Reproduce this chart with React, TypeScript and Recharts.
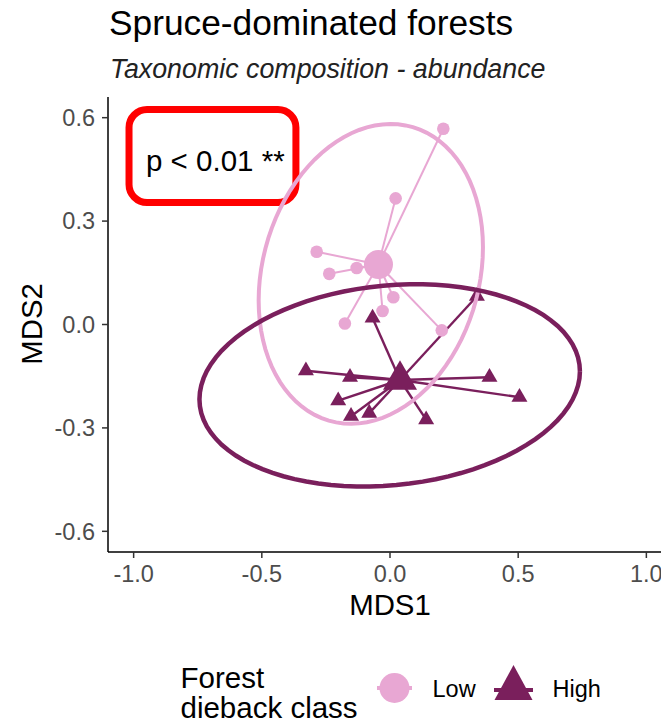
import React from 'react';
import { ScatterChart, Scatter, XAxis, YAxis, ReferenceArea, Legend } from 'recharts';

const FONT = '"Liberation Sans", Arial, Helvetica, sans-serif';
const PINK = '#E8A7D3';
const PURPLE = '#7A1F5C';

// ---- data ----
const groupNames = ['Low', 'High'];
const lowX = [0.208, 0.022, -0.286, -0.237, -0.13, 0.013, -0.029, -0.176, 0.202];
const lowY = [0.568, 0.366, 0.211, 0.147, 0.164, 0.079, 0.039, 0.003, -0.017];
const highX = [-0.068, 0.339, -0.328, -0.156, 0.388, 0.505, -0.202, -0.152, -0.081, 0.141];
const highY = [0.019, 0.082, -0.134, -0.153, -0.153, -0.211, -0.221, -0.266, -0.257, -0.276];
const centroidX = [-0.045, 0.039];
const centroidY = [0.174, -0.161];
const xTicks = [-1.0, -0.5, 0.0, 0.5, 1.0];
const yTicks = [-0.6, -0.3, 0.0, 0.3, 0.6];
const pLabel = 'p < 0.01 **';

type P = { x: number; y: number };
const toPoints = (xs: number[], ys: number[]): P[] => xs.map((x, i) => ({ x, y: ys[i] }));

// MASS::cov.trob (as used by ggplot2::stat_ellipse, type = "t")
function covTrob(pts: P[], nu = 5, maxit = 25, tol = 0.01) {
  const n = pts.length;
  const p = 2;
  let loc = [pts.reduce((s, q) => s + q.x, 0) / n, pts.reduce((s, q) => s + q.y, 0) / n];
  let w = pts.map(() => 1);
  let X = pts.map((q) => [q.x - loc[0], q.y - loc[1]]);
  for (let it = 0; it < maxit; it++) {
    const w0 = w.slice();
    X = pts.map((q) => [q.x - loc[0], q.y - loc[1]]);
    const sw = w.reduce((a, b) => a + b, 0);
    let sxx = 0, sxy = 0, syy = 0;
    X.forEach((v, i) => {
      sxx += (w[i] / sw) * v[0] * v[0];
      sxy += (w[i] / sw) * v[0] * v[1];
      syy += (w[i] / sw) * v[1] * v[1];
    });
    const det = sxx * syy - sxy * sxy;
    const Q = X.map((v) => (syy * v[0] * v[0] - 2 * sxy * v[0] * v[1] + sxx * v[1] * v[1]) / det);
    w = Q.map((q) => (nu + p) / (nu + q));
    const sw2 = w.reduce((a, b) => a + b, 0);
    loc = [
      pts.reduce((s, q, i) => s + w[i] * q.x, 0) / sw2,
      pts.reduce((s, q, i) => s + w[i] * q.y, 0) / sw2,
    ];
    if (w.every((wi, i) => Math.abs(wi - w0[i]) < tol)) break;
  }
  let c11 = 0, c12 = 0, c22 = 0;
  X.forEach((v, i) => {
    c11 += w[i] * v[0] * v[0];
    c12 += w[i] * v[0] * v[1];
    c22 += w[i] * v[1] * v[1];
  });
  return { loc, cov: [c11 / n, c12 / n, c22 / n] };
}

function confidenceEllipse(pts: P[], level = 0.95, segments = 90): P[] {
  const { loc, cov } = covTrob(pts);
  const dfd = pts.length - 1;
  const fq = (dfd / 2) * (Math.pow(1 - level, -2 / dfd) - 1); // qf(level, 2, dfd)
  const radius = Math.sqrt(2 * fq);
  const r11 = Math.sqrt(cov[0]);
  const r12 = cov[1] / r11;
  const r22 = Math.sqrt(cov[2] - r12 * r12);
  const out: P[] = [];
  for (let k = 0; k <= segments; k++) {
    const a = (k * 2 * Math.PI) / segments;
    const c = Math.cos(a), s = Math.sin(a);
    out.push({ x: loc[0] + radius * c * r11, y: loc[1] + radius * (c * r12 + s * r22) });
  }
  return out;
}

const lowPts = toPoints(lowX, lowY);
const highPts = toPoints(highX, highY);
const groupPts = [lowPts, highPts];
const centroids = toPoints(centroidX, centroidY);
const ellipses = groupPts.map((g) => confidenceEllipse(g));
const colors = [PINK, PURPLE];

const none = () => <g />;

const circleShape = (r: number, fill: string) => (props: any) =>
  <circle cx={props.cx} cy={props.cy} r={r} fill={fill} />;

const triangleShape = (width: number, fill: string) => (props: any) => {
  const h = (width * Math.sqrt(3)) / 2;
  const { cx, cy } = props;
  const pts = `${cx},${cy - (2 * h) / 3} ${cx - width / 2},${cy + h / 3} ${cx + width / 2},${cy + h / 3}`;
  return <polygon points={pts} fill={fill} />;
};

const LegendContent = () => (
  <svg width={661} height={74} style={{ display: 'block' }}>
    <text x={180.5} y={38} fontFamily={FONT} fontSize={29.5} fill="#000">Forest</text>
    <text x={180.5} y={68} fontFamily={FONT} fontSize={29.5} fill="#000">dieback class</text>
    <line x1={377} x2={412} y1={38} y2={38} stroke={PINK} strokeWidth={4} />
    <circle cx={394.5} cy={38} r={15} fill={PINK} />
    <text x={432.5} y={47} fontFamily={FONT} fontSize={23.5} fill="#000">{groupNames[0]}</text>
    <line x1={494} x2={533} y1={40} y2={40} stroke={PURPLE} strokeWidth={4} />
    <polygon points="513.5,15 494.5,50 532.5,50" fill={PURPLE} />
    <text x={552.5} y={47} fontFamily={FONT} fontSize={23.5} fill="#000">{groupNames[1]}</text>
  </svg>
);

const pBox = (props: any) => {
  const { x, y, width, height } = props;
  return (
    <g>
      <rect x={x} y={y} width={width} height={height} rx={18} ry={18} fill="none" stroke="#FF0000" strokeWidth={7} />
      <text x={x + 17} y={y + 61.5} fontFamily={FONT} fontSize={29.5} fill="#000">{pLabel}</text>
    </g>
  );
};

export default function App() {
  return (
    <div style={{ position: 'absolute', left: 0, top: 0, width: 661, height: 724, overflow: 'hidden', background: '#fff' }}>
      <svg width={661} height={95} style={{ position: 'absolute', left: 0, top: 0, zIndex: 2 }}>
        <text x={109} y={35} fontFamily={FONT} fontSize={35.3} fill="#000">Spruce-dominated forests</text>
        <text x={110} y={78} fontFamily={FONT} fontSize={26.8} fontStyle="italic" fill="#222">Taxonomic composition - abundance</text>
      </svg>
      <ScatterChart width={672} height={724} margin={{ top: 97, right: 0, bottom: 112, left: 8 }}>
        <XAxis
          type="number"
          dataKey="x"
          domain={[-1.1, 1.1]}
          ticks={xTicks}
          allowDataOverflow
          height={60}
          tickSize={6}
          tickMargin={7}
          tickFormatter={(v: number) => v.toFixed(1)}
          axisLine={{ stroke: '#000', strokeWidth: 1.5 }}
          tickLine={{ stroke: '#333', strokeWidth: 1.5 }}
          tick={{ fill: '#4D4D4D', fontSize: 23.5, fontFamily: FONT }}
          label={() => (
            <text x={390} y={615} textAnchor="middle" fontFamily={FONT} fontSize={29.4} fill="#000">MDS1</text>
          )}
        />
        <YAxis
          type="number"
          dataKey="y"
          domain={[-0.66, 0.66]}
          ticks={yTicks}
          allowDataOverflow
          width={100}
          tickSize={6}
          tickMargin={7}
          tickFormatter={(v: number) => v.toFixed(1)}
          axisLine={{ stroke: '#000', strokeWidth: 1.5 }}
          tickLine={{ stroke: '#333', strokeWidth: 1.5 }}
          tick={{ fill: '#4D4D4D', fontSize: 23.5, fontFamily: FONT }}
          label={() => (
            <text x={31} y={324} dy="0.36em" transform="rotate(-90, 31, 324)" textAnchor="middle" fontFamily={FONT} fontSize={29.4} fill="#000">MDS2</text>
          )}
        />
        <ReferenceArea x1={-1.018} x2={-0.367} y1={0.354} y2={0.624} shape={pBox} ifOverflow="visible" />
        {groupPts.map((g, gi) =>
          g.map((pt, i) => (
            <Scatter
              key={`seg-${gi}-${i}`}
              data={[centroids[gi], pt]}
              fill={colors[gi]}
              line={{ stroke: colors[gi], strokeWidth: gi === 0 ? 2 : 2.4 }}
              lineType="joint"
              shape={none}
              isAnimationActive={false}
            />
          ))
        )}
        <Scatter data={lowPts} fill={PINK} shape={circleShape(6.3, PINK)} isAnimationActive={false} />
        <Scatter data={highPts} fill={PURPLE} shape={triangleShape(16, PURPLE)} isAnimationActive={false} />
        <Scatter data={[centroids[0]]} fill={PINK} shape={circleShape(14.5, PINK)} isAnimationActive={false} />
        <Scatter data={[centroids[1]]} fill={PURPLE} shape={triangleShape(34, PURPLE)} isAnimationActive={false} />
        {ellipses.map((e, gi) => (
          <Scatter
            key={`ell-${gi}`}
            data={e}
            fill={colors[gi]}
            line={{ stroke: colors[gi], strokeWidth: gi === 0 ? 4 : 4.5, fill: 'none' }}
            lineType="joint"
            shape={none}
            isAnimationActive={false}
          />
        ))}
        <Legend
          verticalAlign="middle"
          layout="horizontal"
          align="center"
          wrapperStyle={{ left: 0, top: 650, width: 661, height: 74 }}
          content={() => <LegendContent />}
        />
      </ScatterChart>
    </div>
  );
}
